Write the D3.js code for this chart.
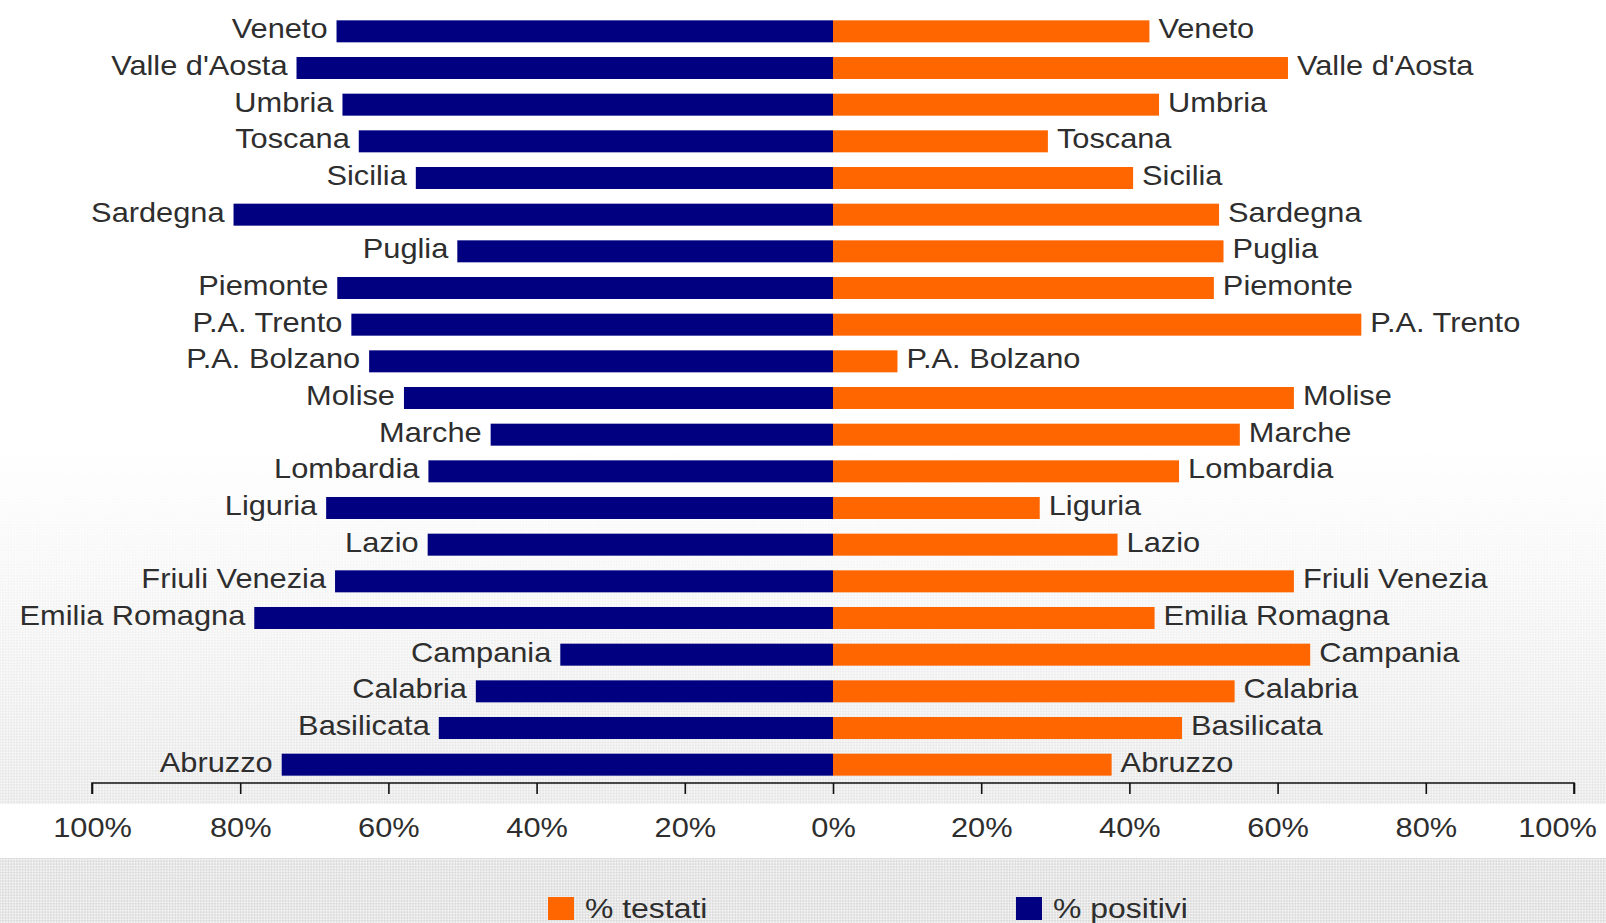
<!DOCTYPE html>
<html>
<head>
<meta charset="utf-8">
<script src="https://cdn.jsdelivr.net/npm/d3@7"></script>
<style>
  body { margin: 0; background: #fff; }
  svg { display: block; }
  text { font-family: "Liberation Sans", Arial, sans-serif; fill: #2e2e2e; }
</style>
</head>
<body>
<script>
// regions, top to bottom as in the picture
const regions = ["Veneto", "Valle d'Aosta", "Umbria", "Toscana", "Sicilia", "Sardegna", "Puglia",
  "Piemonte", "P.A. Trento", "P.A. Bolzano", "Molise", "Marche", "Lombardia", "Liguria", "Lazio",
  "Friuli Venezia", "Emilia Romagna", "Campania", "Calabria", "Basilicata", "Abruzzo"];

// % positivi (left side)
const positivi = [67, 72.4, 66.2, 64, 56.3, 80.9, 50.7, 66.9, 65, 62.6, 57.9, 46.2, 54.6, 68.4, 54.7,
  67.2, 78.1, 36.8, 48.2, 53.2, 74.4];

// % testati (right side)
const testati = [42.7, 61.4, 44, 29, 40.5, 52.1, 52.7, 51.4, 71.3, 8.7, 62.2, 54.9, 46.7, 27.9, 38.4,
  62.2, 43.4, 64.4, 54.2, 47.1, 37.6];

const tickValues = [-100, -80, -60, -40, -20, 0, 20, 40, 60, 80, 100];
const legendItems = [{ label: "% testati", color: "#ff6600" }, { label: "% positivi", color: "#000080" }];

const W = 1606, H = 923;
const stretch = 1.14;   // the original text is a bit wide
const fontSize = 27;

const svg = d3.select("body").append("svg").attr("width", W).attr("height", H);
const defs = svg.append("defs");

// dithered grey background
const pat = defs.append("pattern").attr("id", "dots")
  .attr("width", 4).attr("height", 4).attr("patternUnits", "userSpaceOnUse")
  .attr("patternTransform", "rotate(45)");
pat.append("rect").attr("width", 4).attr("height", 4).attr("fill", "#f2f2f2");
pat.append("rect").attr("width", 2).attr("height", 2).attr("fill", "#dcdcdc");
pat.append("rect").attr("x", 2).attr("y", 2).attr("width", 2).attr("height", 2).attr("fill", "#dcdcdc");

const grad = defs.append("linearGradient").attr("id", "fade")
  .attr("x1", 0).attr("y1", 0).attr("x2", 0).attr("y2", 1);
grad.append("stop").attr("offset", "0.55").attr("stop-color", "#fff").attr("stop-opacity", 0);
grad.append("stop").attr("offset", "1").attr("stop-color", "#fff").attr("stop-opacity", 0.75);
const mask = defs.append("mask").attr("id", "fadeMask");
mask.append("rect").attr("width", W).attr("height", 804).attr("fill", "url(#fade)");

svg.append("rect").attr("width", W).attr("height", H).attr("fill", "#fff");
svg.append("rect").attr("width", W).attr("height", 804).attr("fill", "url(#dots)").attr("mask", "url(#fadeMask)");
svg.append("rect").attr("y", 858).attr("width", W).attr("height", H - 858).attr("fill", "url(#dots)");

// scales
const x = d3.scaleLinear().domain([-100, 100]).range([92, 1574]);
const y = d3.scaleBand().domain(regions).range([13, 783]).paddingInner(0.4).paddingOuter(0.2);

const rows = svg.append("g").selectAll("g").data(regions).join("g");

// left bars
rows.append("rect")
  .attr("x", (d, i) => x(-positivi[i]))
  .attr("y", d => y(d))
  .attr("width", (d, i) => x(0) - x(-positivi[i]))
  .attr("height", y.bandwidth())
  .attr("fill", "#000080");

// right bars
rows.append("rect")
  .attr("x", x(0))
  .attr("y", d => y(d))
  .attr("width", (d, i) => x(testati[i]) - x(0))
  .attr("height", y.bandwidth())
  .attr("fill", "#ff6600");

// labels
rows.append("g")
  .attr("transform", (d, i) => `translate(${x(-positivi[i]) - 9},${y(d) + y.bandwidth() / 2 + 7}) scale(${stretch},1)`)
  .append("text").attr("text-anchor", "end").attr("font-size", fontSize).text(d => d);

rows.append("g")
  .attr("transform", (d, i) => `translate(${x(testati[i]) + 9},${y(d) + y.bandwidth() / 2 + 7}) scale(${stretch},1)`)
  .append("text").attr("font-size", fontSize).text(d => d);

// axis
const axis = svg.append("g").attr("transform", "translate(0,783)")
  .call(d3.axisBottom(x).tickValues(tickValues).tickSize(11).tickPadding(24)
    .tickFormat(d => Math.abs(d) + "%"));
axis.selectAll("path, line").attr("stroke", "#111").attr("stroke-width", 1.6);
axis.select(".domain").attr("d", `M${x(-100)},11V0H${x(100)}V11`);
axis.selectAll("text")
  .attr("font-size", fontSize).attr("fill", "#2e2e2e")
  .attr("font-family", "'Liberation Sans', Arial, sans-serif")
  .attr("transform", d => d === 100 ? `translate(-17,0) scale(${stretch},1)` : `scale(${stretch},1)`);

// legend
const legendX = [548, 1016];
const legend = svg.append("g").selectAll("g").data(legendItems).join("g")
  .attr("transform", (d, i) => `translate(${legendX[i]},897)`);
legend.append("rect").attr("width", 26).attr("height", 23).attr("fill", d => d.color);
legend.append("g").attr("transform", `translate(37,21) scale(${stretch},1)`)
  .append("text").attr("font-size", 28).text(d => d.label);
</script>
</body>
</html>
